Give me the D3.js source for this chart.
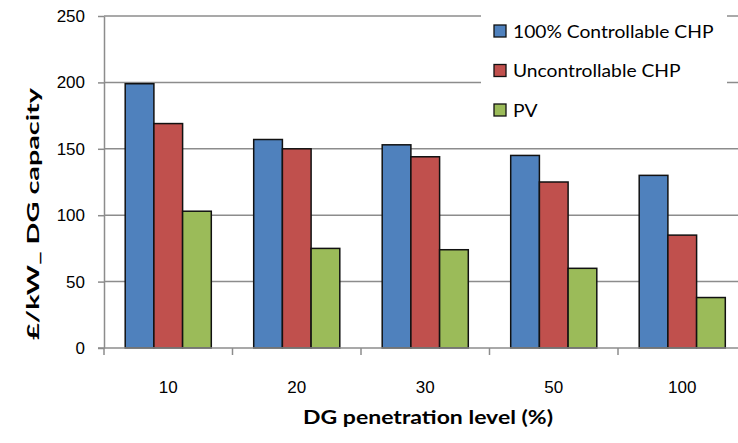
<!DOCTYPE html>
<html>
<head>
<meta charset="utf-8">
<script src="https://cdn.jsdelivr.net/npm/d3@7"></script>
<style>
  body { margin: 0; background: #fff; }
  svg { display: block; font-family: Lato, "Open Sans", sans-serif; }
</style>
</head>
<body>
<svg id="chart"></svg>
<script>
// data
const categories = ['10', '20', '30', '50', '100'];
const seriesNames = ['100% Controllable CHP', 'Uncontrollable CHP', 'PV'];
const controllable = [199, 157, 153, 145, 130];
const uncontrollable = [169, 150, 144, 125, 85];
const pv = [103, 75, 74, 60, 38];
const yTicks = [0, 50, 100, 150, 200, 250];
const colours = ['#4F81BD', '#C0504D', '#9BBB59'];

const seriesValues = [controllable, uncontrollable, pv];

const W = 738, H = 443;
const margin = { left: 104, top: 16 };
const plotRight = 746.5; // the plot runs a little past the picture edge

const svg = d3.select('#chart').attr('width', W).attr('height', H);

const x = d3.scaleBand()
    .domain(categories)
    .range([margin.left, plotRight])
    .paddingInner(0.33)
    .paddingOuter(0.165);

const xSub = d3.scaleBand()
    .domain(seriesNames)
    .range([0, x.bandwidth()]);

const y = d3.scaleLinear()
    .domain([0, 250])
    .range([348, margin.top]);

// gridlines
svg.append('g')
  .selectAll('line')
  .data(yTicks.filter(d => d > 0))
  .enter().append('line')
    .attr('x1', margin.left).attr('x2', plotRight)
    .attr('y1', d => y(d)).attr('y2', d => y(d))
    .attr('stroke', '#8c8c8c')
    .attr('stroke-width', 1.5);

// bars
const rows = categories.map((c, i) => seriesNames.map((s, j) => ({ cat: c, name: s, value: seriesValues[j][i], k: j })));

svg.append('g')
  .selectAll('g')
  .data(rows)
  .enter().append('g')
    .attr('transform', d => `translate(${x(d[0].cat)},0)`)
  .selectAll('rect')
  .data(d => d)
  .enter().append('rect')
    .attr('x', d => xSub(d.name))
    .attr('y', d => y(d.value))
    .attr('width', xSub.bandwidth())
    .attr('height', d => y(0) - y(d.value))
    .attr('fill', d => colours[d.k])
    .attr('stroke', '#111')
    .attr('stroke-width', 1.5);

// y axis
const yAxis = svg.append('g')
    .attr('transform', `translate(${margin.left},0)`)
    .call(d3.axisLeft(y).tickValues(yTicks).tickSize(6).tickPadding(13).tickSizeOuter(0));
yAxis.select('.domain').attr('stroke', '#8c8c8c').attr('stroke-width', 1.5);
yAxis.selectAll('.tick line').attr('stroke', '#8c8c8c').attr('stroke-width', 1.5);
yAxis.selectAll('.tick text')
    .style('font-size', '17px')
    .attr('fill', '#000');

// x axis with ticks at category boundaries
const xAxis = svg.append('g')
    .attr('transform', `translate(0,${y(0)})`)
    .call(d3.axisBottom(x).tickSize(0).tickPadding(33));
xAxis.select('.domain').remove();
xAxis.append('line')
    .attr('x1', margin.left - 6).attr('x2', plotRight)
    .attr('stroke', '#8c8c8c').attr('stroke-width', 1.5);
xAxis.selectAll('.bound')
  .data(categories)
  .enter().append('line')
    .attr('class', 'bound')
    .attr('x1', d => x(d) - x.step() * x.paddingInner() / 2)
    .attr('x2', d => x(d) - x.step() * x.paddingInner() / 2)
    .attr('y1', 0).attr('y2', 7)
    .attr('stroke', '#8c8c8c').attr('stroke-width', 1.5);
xAxis.selectAll('.tick text')
    .style('font-size', '17px')
    .attr('fill', '#000');

// axis titles: the original stretches them sideways, so scale the glyphs to its length
function stretched(px, py, rot, size, length, label) {
  const t = svg.append('text')
      .attr('text-anchor', 'middle')
      .style('font-size', size + 'px').style('font-weight', 'bold')
      .text(label);
  const s = length / t.node().getComputedTextLength();
  t.attr('transform', `translate(${px},${py}) rotate(${rot}) scale(${s},1)`);
}
stretched(428, 424, 0, 19, 250, 'DG penetration level (%)');
stretched(39, 214, -90, 17.5, 252, '£/kW_ DG capacity');

// legend, with a white box over the gridlines
const legend = svg.append('g');
legend.append('rect')
    .attr('x', 481).attr('y', 0)
    .attr('width', 246).attr('height', 135)
    .attr('fill', '#fff');
const item = legend.selectAll('.item')
  .data(seriesNames)
  .enter().append('g')
    .attr('class', 'item')
    .attr('transform', (d, i) => `translate(494,${31 + i * 39.5})`);
item.append('rect')
    .attr('x', 0).attr('y', -6)
    .attr('width', 12).attr('height', 12)
    .attr('fill', (d, i) => colours[i])
    .attr('stroke', '#111').attr('stroke-width', 1.3);
item.append('text')
    .attr('transform', 'translate(19,6.5) scale(1.1,1)')
    .style('font-size', '17.5px')
    .text(d => d);
</script>
</body>
</html>
